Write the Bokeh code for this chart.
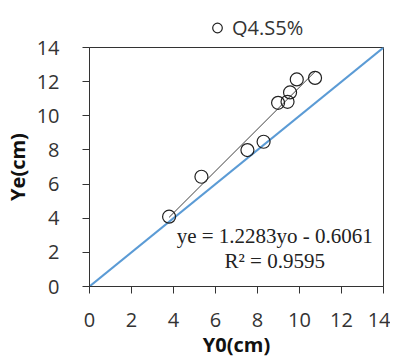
from bokeh.plotting import figure
from bokeh.layouts import column
from bokeh.models import Range1d, FixedTicker, Legend, LegendItem, Label
from bokeh.embed import file_html
from bokeh.resources import INLINE

# data
y0_vals = [3.79, 5.33, 7.52, 8.29, 8.98, 9.43, 9.55, 9.87, 10.74]
ye_vals = [4.09, 6.43, 7.99, 8.48, 10.76, 10.82, 11.37, 12.13, 12.22]
series_name = "Q4.S5%"
slope = 1.2283
intercept = -0.6061
r2 = 0.9595
ticks = [0, 2, 4, 6, 8, 10, 12, 14]
one_to_one = [0, 14]

marker_style = dict(marker="circle", size=13, fill_color="white", fill_alpha=0.0,
                    line_color="#222222", line_width=1.2)

# legend strip above the plot (its data lies outside this strip's ranges)
top = figure(width=390, height=37, output_backend="svg", toolbar_location=None,
             x_range=Range1d(0, 1), y_range=Range1d(0, 1),
             x_axis_type=None, y_axis_type=None, min_border=0)
top.grid.visible = False
top.outline_line_color = None
leg_r = top.scatter(y0_vals, ye_vals, **marker_style)
legend = Legend(items=[LegendItem(label=series_name, renderers=[leg_r])],
                location=(116, -4), border_line_color=None, background_fill_alpha=0,
                padding=0, margin=0, glyph_width=24, glyph_height=27, label_height=27,
                label_standoff=3, label_text_font="Open Sans", label_text_font_size="20px",
                label_text_color="#333333")
top.add_layout(legend, "center")

p = figure(width=390, height=324, output_backend="svg", toolbar_location=None,
           x_range=Range1d(0, 14), y_range=Range1d(0, 14),
           min_border_left=89, min_border_right=7, min_border_top=10, min_border_bottom=75)
p.grid.visible = False
p.outline_line_color = "#333333"
p.outline_line_width = 1
p.background_fill_color = "white"

for ax in (p.xaxis[0], p.yaxis[0]):
    ax.ticker = FixedTicker(ticks=ticks)
    ax.major_tick_in = 0
    ax.major_tick_out = 7
    ax.minor_tick_line_color = None
    ax.axis_line_color = "#333333"
    ax.major_tick_line_color = "#333333"
    ax.major_label_text_font = "Open Sans"
    ax.major_label_text_font_size = "20px"
    ax.major_label_text_color = "#333333"
    ax.axis_label_text_font = "Open Sans"
    ax.axis_label_text_font_size = "20px"
    ax.axis_label_text_font_style = "bold"
    ax.axis_label_text_color = "#111111"

p.xaxis.axis_label = "Y0(cm)"
p.yaxis.axis_label = "Ye(cm)"
p.xaxis.major_label_standoff = 19
p.yaxis.major_label_standoff = 23
p.xaxis.axis_label_standoff = 1
p.yaxis.axis_label_standoff = 3

# 1:1 line
p.line(one_to_one, one_to_one, line_color="#5B9BD5", line_width=2)

# trend line from fit coefficients
xs_fit = [min(y0_vals), max(y0_vals)]
ys_fit = [slope * x + intercept for x in xs_fit]
p.line(xs_fit, ys_fit, line_color="#404040", line_width=1)

p.scatter(y0_vals, ye_vals, **marker_style)

p.add_layout(Label(x=8.82, y=2.98, text="ye = %.4fyo - %.4f" % (slope, -intercept),
                   text_align="center", text_baseline="alphabetic",
                   text_font="Liberation Serif", text_font_size="21px", text_color="#222222"))
p.add_layout(Label(x=8.82, y=1.52, text="R² = %.4f" % r2,
                   text_align="center", text_baseline="alphabetic",
                   text_font="Liberation Serif", text_font_size="21px", text_color="#222222"))

layout = column(top, p, spacing=0)
open("out.html", "w").write(file_html(layout, INLINE))
